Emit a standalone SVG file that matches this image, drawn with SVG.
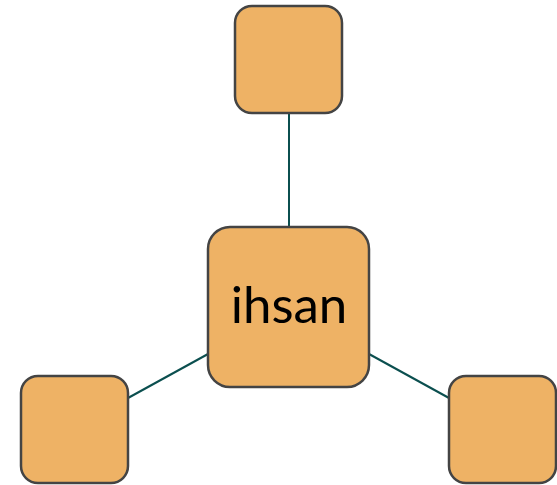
<svg xmlns="http://www.w3.org/2000/svg" width="557" height="485" viewBox="0 0 557 485">
<style>
.node{fill:#EEB265;stroke:#444444;stroke-width:2.5}
.edge{stroke:#0B4F4F;stroke-width:2;fill:none}
.label{font-family:Lato,"Open Sans",sans-serif;font-size:51px;fill:#000;text-anchor:middle}
</style>
<rect width="557" height="485" fill="#ffffff"/>
<g id="connectors">
<line class="edge" x1="289" y1="113" x2="289" y2="227"/>
<line class="edge" x1="128" y1="398" x2="208" y2="354"/>
<line class="edge" x1="369" y1="354" x2="449" y2="398"/>
</g>
<g id="center">
<rect class="node" x="208" y="227" width="161" height="160" rx="22" ry="22"/>
<text class="label" x="289" y="323">ihsan</text>
</g>
<g id="top">
<rect class="node" x="235" y="6" width="107" height="107" rx="17" ry="17"/>
</g>
<g id="left">
<rect class="node" x="21" y="376" width="107" height="107" rx="17" ry="17"/>
</g>
<g id="right">
<rect class="node" x="449" y="376" width="107" height="107" rx="17" ry="17"/>
</g>
</svg>
